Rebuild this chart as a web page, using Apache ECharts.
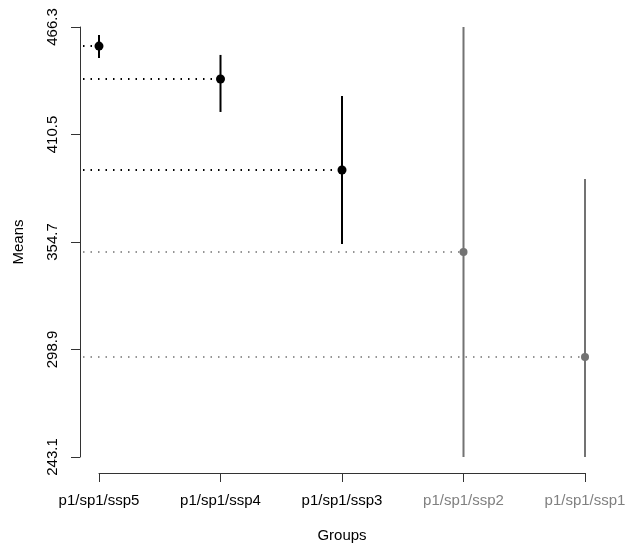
<!DOCTYPE html>
<html>
<head>
<meta charset="utf-8">
<script src="https://cdn.jsdelivr.net/npm/echarts@6/dist/echarts.min.js"></script>
<style>
  html, body { margin: 0; padding: 0; background: #fff; }
  #chart { width: 628px; height: 546px; }
</style>
</head>
<body>
<div id="chart"></div>
<script>
const groups = ['p1/sp1/ssp5', 'p1/sp1/ssp4', 'p1/sp1/ssp3', 'p1/sp1/ssp2', 'p1/sp1/ssp1']
const means = [456.4, 439.3, 392.1, 349.5, 295.0]
const lower = [450.2, 422.2, 353.7, 243.1, 243.1]
const upper = [462.2, 451.8, 430.5, 466.3, 387.4]
// groups whose interval is shown in grey
const faded = [false, false, false, true, true]
const yTicks = [243.1, 298.9, 354.7, 410.5, 466.3]

const BLACK = '#000'
const GREY = '#737373'
const FONT = 'Liberation Sans, Arial, sans-serif'

const chart = echarts.init(document.getElementById('chart'))

const data = groups.map((g, i) => [i, means[i], lower[i], upper[i]])

chart.setOption({
  animation: false,
  grid: { left: 99, right: 43, top: 27, bottom: 89, outerBoundsMode: 'none', containLabel: false },
  xAxis: {
    type: 'category', data: groups, boundaryGap: false,
    offset: 16,
    name: 'Groups', nameLocation: 'middle', nameGap: 55,
    nameTextStyle: { fontFamily: FONT, fontSize: 15, color: '#000' },
    axisLine: { lineStyle: { color: '#333', width: 1 } },
    axisTick: { show: true, length: 9, alignWithLabel: true, lineStyle: { color: '#333' } },
    axisLabel: {
      margin: 20, fontFamily: FONT, fontSize: 15, interval: 0,
      color: (v, i) => faded[i] ? '#808080' : '#000'
    },
    splitLine: { show: false }
  },
  yAxis: {
    type: 'value', min: 243.1, max: 466.3,
    offset: 19,
    name: 'Means', nameLocation: 'middle', nameGap: 54, nameRotate: 90,
    nameTextStyle: { fontFamily: FONT, fontSize: 15, color: '#000' },
    axisLine: { show: true, lineStyle: { color: '#333', width: 1 } },
    axisTick: { show: true, length: 9, customValues: yTicks, lineStyle: { color: '#333' } },
    axisLabel: {
      rotate: 90, margin: 20, fontFamily: FONT, fontSize: 15, color: '#000',
      customValues: yTicks, formatter: v => v.toFixed(1)
    },
    splitLine: { show: false }
  },
  series: [{
    type: 'custom',
    data: data,
    clip: false,
    renderItem: (params, api) => {
      const i = api.value(0)
      const col = faded[i] ? GREY : BLACK
      const p = api.coord([i, api.value(1)])
      const lo = api.coord([i, api.value(2)])
      const hi = api.coord([i, api.value(3)])
      const x0 = params.coordSys.x - 16
      return {
        type: 'group',
        children: [
          {
            type: 'line',
            shape: { x1: x0, y1: p[1], x2: p[0], y2: p[1] },
            style: { stroke: col, lineWidth: faded[i] ? 1.5 : 2, lineDash: [1.5, 6] }
          },
          {
            type: 'line',
            shape: { x1: p[0], y1: lo[1], x2: p[0], y2: hi[1] },
            style: { stroke: col, lineWidth: 2 }
          },
          {
            type: 'circle',
            shape: { cx: p[0], cy: p[1], r: faded[i] ? 4 : 4.5 },
            style: { fill: col }
          }
        ]
      }
    }
  }]
})
</script>
</body>
</html>
